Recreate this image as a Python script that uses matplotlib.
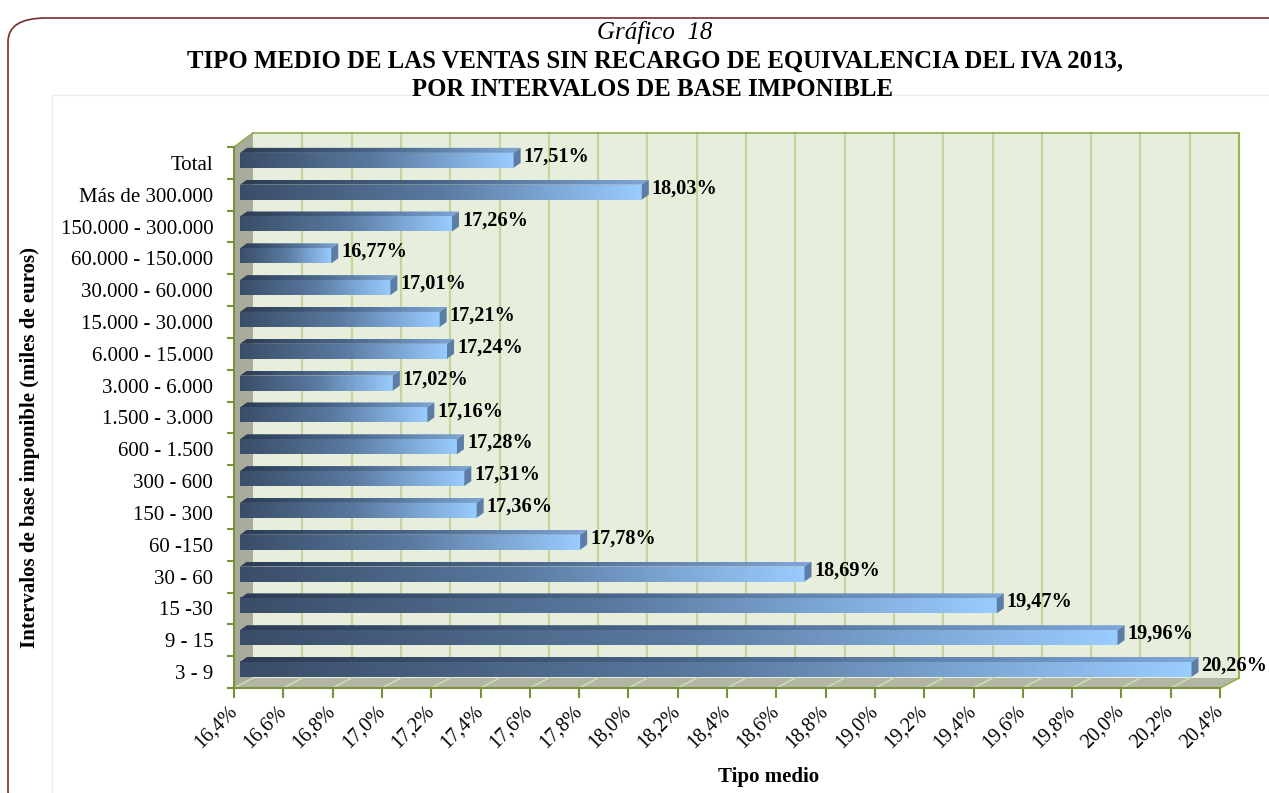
import numpy as np
import matplotlib
matplotlib.use("Agg")
import matplotlib.pyplot as plt
import matplotlib.transforms as mtransforms
from matplotlib.colors import LinearSegmentedColormap
from matplotlib.patches import Polygon, Rectangle, FancyBboxPatch

plt.rcParams['font.family'] = ['Liberation Serif', 'DejaVu Serif']

# data (top to bottom as in the chart)
categories = ["Total", "Más de 300.000", "150.000 - 300.000", "60.000 - 150.000",
              "30.000 - 60.000", "15.000 - 30.000", "6.000 - 15.000", "3.000 - 6.000",
              "1.500 - 3.000", "600 - 1.500", "300 - 600", "150 - 300", "60 -150",
              "30 - 60", "15 -30", "9 - 15", "3 - 9"]
values = [17.51, 18.03, 17.26, 16.77, 17.01, 17.21, 17.24, 17.02, 17.16,
          17.28, 17.31, 17.36, 17.78, 18.69, 19.47, 19.96, 20.26]
xticks = [16.4, 16.6, 16.8, 17.0, 17.2, 17.4, 17.6, 17.8, 18.0, 18.2,
          18.4, 18.6, 18.8, 19.0, 19.2, 19.4, 19.6, 19.8, 20.0, 20.2, 20.4]

W, H = 1269, 793
fig = plt.figure(figsize=(W / 100, H / 100), dpi=100)

# outer frame and inner chart area
fig.patches.append(FancyBboxPatch((8 / W, (H - 815) / H), 1300 / W, 797 / H,
                                  boxstyle="round,pad=0,rounding_size=0.03",
                                  transform=fig.transFigure, facecolor='white',
                                  edgecolor='#7B2C2C', lw=1.2, zorder=-5))
fig.patches.append(Rectangle((52 / W, -0.1), 1300 / W, (H - 95) / H + 0.1,
                             transform=fig.transFigure, facecolor='white',
                             edgecolor='#ececec', lw=1, zorder=-4))

ax = fig.add_axes([234 / W, 105 / H, 986 / W, 541 / H])
xmin, xmax = 16.4, 20.4
ymin, ymax = -0.5, len(categories) - 0.5
px_x = (xmax - xmin) / 986
px_y = (ymax - ymin) / 541
DX = 19 * px_x
DYT = 14 * px_y
DYB = 10 * px_y

wall_c = '#E7EEDC'
grid_c = '#C4D79B'
edge_c = '#8DB04A'

# back wall
ax.add_patch(Polygon([(xmin + DX, ymin + DYB), (xmax + DX, ymin + DYB),
                      (xmax + DX, ymax + DYT), (xmin + DX, ymax + DYT)],
                     closed=True, facecolor=wall_c, edgecolor='none', zorder=0, clip_on=False))
for t in xticks[1:]:
    ax.plot([t + DX, t + DX], [ymin + DYB, ymax + DYT], color=grid_c, lw=1.6, zorder=1, clip_on=False)
ax.plot([xmin + DX, xmax + DX, xmax + DX], [ymax + DYT, ymax + DYT, ymin + DYB],
        color=edge_c, lw=1.2, zorder=1, clip_on=False)
# floor
ax.add_patch(Polygon([(xmin, ymin), (xmax, ymin), (xmax + DX, ymin + DYB), (xmin + DX, ymin + DYB)],
                     closed=True, facecolor='#B3B5A5', edgecolor='none', zorder=0.5, clip_on=False))
for t in xticks:
    ax.plot([t, t + DX], [ymin, ymin + DYB], color='#D3E2B4', lw=1.0, zorder=0.6, clip_on=False)
ax.plot([xmax, xmax + DX], [ymin, ymin + DYB], color=edge_c, lw=1.2, zorder=1, clip_on=False)
# left wall
ax.add_patch(Polygon([(xmin, ymin), (xmin + DX, ymin + DYB), (xmin + DX, ymax + DYT), (xmin, ymax)],
                     closed=True, facecolor='#A9AB9B', edgecolor='none', zorder=0.5, clip_on=False))
ax.plot([xmin, xmin + DX], [ymax, ymax + DYT], color=edge_c, lw=1.2, zorder=1, clip_on=False)

front_cmap = LinearSegmentedColormap.from_list('front', ['#3A4D68', '#5A7AA1', '#99CCFF'])
top_cmap = LinearSegmentedColormap.from_list('top', ['#2C3C54', '#4B678C', '#7EA6D6'])
grad = np.linspace(0, 1, 256).reshape(1, -1)

bo = 6 * px_x      # bar offset from the front plane
bdx = 7 * px_x     # bar depth
bdy = 5 * px_y
n = len(categories)
for k, (cat, v) in enumerate(zip(categories, values)):
    i = n - 1 - k
    x0 = xmin + bo
    x1 = v + bo
    y0 = i - 0.155
    y1 = y0 + 15 * px_y
    # front face
    ax.imshow(grad, cmap=front_cmap, extent=[x0, x1, y0, y1], aspect='auto',
              origin='lower', interpolation='bilinear', zorder=3)
    # top face
    top = Polygon([(x0, y1), (x1, y1), (x1 + bdx, y1 + bdy), (x0 + bdx, y1 + bdy)],
                  closed=True, facecolor='none', edgecolor='none', zorder=3)
    ax.add_patch(top)
    im = ax.imshow(grad, cmap=top_cmap, extent=[x0, x1 + bdx, y1, y1 + bdy], aspect='auto',
                   origin='lower', interpolation='bilinear', zorder=3)
    im.set_clip_path(top)
    # side face
    ax.add_patch(Polygon([(x1, y0), (x1 + bdx, y0 + bdy), (x1 + bdx, y1 + bdy), (x1, y1)],
                         closed=True, facecolor='#5B7DA6', edgecolor='none', zorder=3))
    ax.text(x1 + bdx + 3 * px_x, i + 0.2, f"{v:.2f}%".replace('.', ','),
            fontsize=14.6, fontweight='bold', ha='left', va='center', zorder=5, clip_on=False)

ax.set_xlim(xmin, xmax)
ax.set_ylim(ymin, ymax)
ax.set_facecolor('none')
for s in ['top', 'right']:
    ax.spines[s].set_visible(False)
for s in ['left', 'bottom']:
    ax.spines[s].set_color('#77933C')
    ax.spines[s].set_linewidth(1.5)
    ax.spines[s].set_zorder(6)

ax.set_xticks(xticks)
ax.set_xticklabels([f"{t:.1f}%".replace('.', ',') for t in xticks], rotation=45,
                   ha='right', va='center', rotation_mode='anchor', fontsize=14.5)
shift = mtransforms.ScaledTranslation(6 / 100, 0, fig.dpi_scale_trans)
for lab in ax.get_xticklabels():
    lab.set_transform(lab.get_transform() + shift)
ax.tick_params(axis='x', colors='#77933C', length=7, width=1.5, labelcolor='black', pad=8)

ax.set_yticks(np.arange(n))
ax.set_yticklabels(categories[::-1], fontsize=15)
ax.set_yticks(np.arange(n + 1) - 0.5, minor=True)
ax.tick_params(axis='y', which='major', length=0, pad=15)
ax.tick_params(axis='y', which='minor', length=5, width=1.5, color='#77933C')

fig.text(769 / W, 1 - 777 / H, "Tipo medio", fontsize=15, fontweight='bold',
         ha='center', va='center')
fig.text(30 / W, 1 - 447 / H, "Intervalos de base imponible (miles de euros)", rotation=90,
         fontsize=15, fontweight='bold', ha='center', va='center')

fig.text(655 / W, 1 - 32 / H, "Gráfico  18", fontsize=18, style='italic', ha='center', va='center')
fig.text(655 / W, 1 - 61 / H, "TIPO MEDIO DE LAS VENTAS SIN RECARGO DE EQUIVALENCIA DEL IVA 2013,",
         fontsize=17.8, fontweight='bold', ha='center', va='center')
fig.text(653 / W, 1 - 89 / H, "POR INTERVALOS DE BASE IMPONIBLE",
         fontsize=17.8, fontweight='bold', ha='center', va='center')

fig.savefig("out.png", dpi=100)
